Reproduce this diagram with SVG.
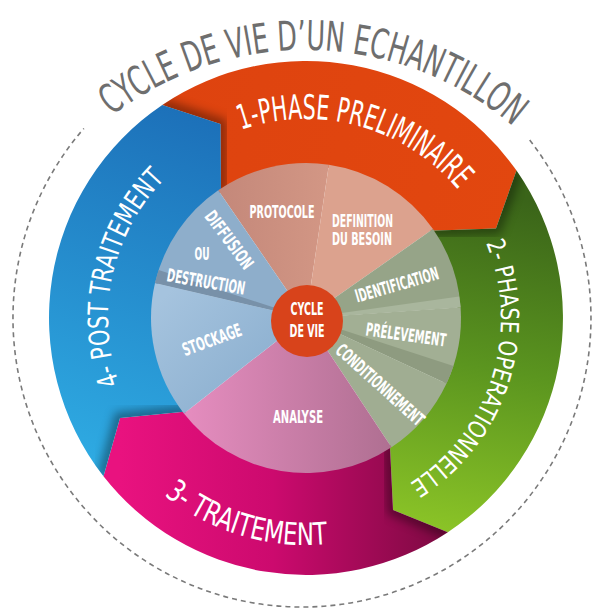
<svg xmlns="http://www.w3.org/2000/svg" width="592" height="611" viewBox="0 0 592 611">
<style>
text{font-family:'Liberation Sans Narrow','DejaVu Sans Condensed','Liberation Sans',sans-serif}
.title{fill:#6e6e6e;font-size:41px}
.ring{fill:#fff}
.lbl{fill:#fff;font-size:18px;font-weight:bold;text-anchor:middle}
.lbll{fill:#fff;font-size:18px;font-weight:bold}
.shadow{fill:none;stroke:#000;stroke-width:12;stroke-opacity:0.38;stroke-linejoin:miter}
</style>
<defs>
<linearGradient id="gBlue" gradientUnits="userSpaceOnUse" x1="90" y1="460" x2="210" y2="110"><stop offset="0" stop-color="#2eaae2"/><stop offset="1" stop-color="#1c6fb8"/></linearGradient>
<linearGradient id="gOrange" gradientUnits="userSpaceOnUse" x1="160" y1="100" x2="520" y2="200"><stop offset="0" stop-color="#de430f"/><stop offset="1" stop-color="#e2470f"/></linearGradient>
<linearGradient id="gGreen" gradientUnits="userSpaceOnUse" x1="470" y1="190" x2="410" y2="530"><stop offset="0" stop-color="#3a6419"/><stop offset="0.5" stop-color="#5b951f"/><stop offset="1" stop-color="#8cc527"/></linearGradient>
<linearGradient id="gMag" gradientUnits="userSpaceOnUse" x1="120" y1="0" x2="460" y2="0"><stop offset="0" stop-color="#e9127f"/><stop offset="0.45" stop-color="#cc0a6e"/><stop offset="1" stop-color="#760a3e"/></linearGradient>
<linearGradient id="gAnal" gradientUnits="userSpaceOnUse" x1="190" y1="0" x2="430" y2="0"><stop offset="0" stop-color="#e48cbe"/><stop offset="1" stop-color="#a56a89"/></linearGradient>
<linearGradient id="gProt" gradientUnits="userSpaceOnUse" x1="220" y1="0" x2="330" y2="0"><stop offset="0" stop-color="#c4887a"/><stop offset="1" stop-color="#d39785"/></linearGradient>
<linearGradient id="gStock" gradientUnits="userSpaceOnUse" x1="160" y1="300" x2="280" y2="420"><stop offset="0" stop-color="#a5c3de"/><stop offset="1" stop-color="#86abcc"/></linearGradient>
<filter id="blur" x="-50%" y="-50%" width="200%" height="200%"><feGaussianBlur stdDeviation="5"/></filter>
<clipPath id="ringClip"><circle cx="306" cy="318" r="257"/></clipPath>
<path id="segO" d="M162.3,104.9 A257,257 0 0 1 516.5,170.6 L496,228.5 L430.5,230.8 A152,152 0 0 0 221,192 L220.5,124 Z"/>
<path id="segG" d="M516.5,170.6 A257,257 0 0 1 447.8,532.3 L393,510 L389.9,444.8 A152,152 0 0 0 430.5,230.8 L496,228.5 Z"/>
<path id="segM" d="M447.8,532.3 A257,257 0 0 1 103.5,476.2 L120,418 L186.2,411.6 A152,152 0 0 0 389.9,444.8 L393,510 Z"/>
<path id="segB" d="M103.5,476.2 A257,257 0 0 1 162.3,104.9 L220.5,124 L221,192 A152,152 0 0 0 186.2,411.6 L120,418 Z"/>
<mask id="mO"><rect width="592" height="611" fill="#fff"/><use href="#segO" fill="#000"/></mask>
<mask id="mG"><rect width="592" height="611" fill="#fff"/><use href="#segG" fill="#000"/></mask>
<mask id="mM"><rect width="592" height="611" fill="#fff"/><use href="#segM" fill="#000"/></mask>
<mask id="mB"><rect width="592" height="611" fill="#fff"/><use href="#segB" fill="#000"/></mask>
<path id="pTitle" d="M111.8,115.9 A319,319 0 0 1 513.2,126.4"/>
<path id="p1" d="M241.2,129.8 A199,199 0 0 1 458.4,190.1"/>
<path id="p2" d="M486,243.1 A195,195 0 0 1 409.3,483.4"/>
<path id="p3" d="M164.1,495.2 A227,227 0 0 0 327.8,544"/>
<path id="p4" d="M119.2,383.8 A198,198 0 0 1 165,179"/>
</defs>

<path id="dashed-circle" d="M529.7,140.1 A289,289 0 1 1 83.9,128.4" fill="none" stroke="#7a7a7a" stroke-width="1.6" stroke-dasharray="5 4"/>

<g id="title"><text class="title"><textPath href="#pTitle" textLength="434" lengthAdjust="spacingAndGlyphs">CYCLE DE VIE D’UN ECHANTILLON</textPath></text></g>

<g id="phase1"><use href="#segO" fill="url(#gOrange)"/></g>
<g id="phase2"><use href="#segG" fill="url(#gGreen)"/></g>
<g id="phase3"><use href="#segM" fill="url(#gMag)"/></g>
<g id="phase4"><use href="#segB" fill="url(#gBlue)"/></g>

<g id="connectors" clip-path="url(#ringClip)">
<g mask="url(#mO)"><polyline class="shadow" filter="url(#blur)" points="516.5,170.6 496,228.5 430.5,230.8"/></g>
<g mask="url(#mG)"><polyline class="shadow" filter="url(#blur)" points="447.8,532.3 393,510 389.9,444.8"/></g>
<g mask="url(#mM)"><polyline class="shadow" filter="url(#blur)" points="103.5,476.2 120,418 186.2,411.6"/></g>
<g mask="url(#mB)"><polyline class="shadow" filter="url(#blur)" points="162.3,104.9 220.5,124 221,192"/></g>
</g>

<g id="ring-labels">
<text class="ring" font-size="34"><textPath href="#p1" textLength="239" lengthAdjust="spacingAndGlyphs">1-PHASE PRELIMINAIRE</textPath></text>
<text class="ring" font-size="25"><textPath href="#p2" textLength="274" lengthAdjust="spacingAndGlyphs">2- PHASE OPERATIONNELLE</textPath></text>
<text class="ring" font-size="31"><textPath href="#p3" textLength="175" lengthAdjust="spacingAndGlyphs">3- TRAITEMENT</textPath></text>
<text class="ring" font-size="28"><textPath href="#p4" textLength="221" lengthAdjust="spacingAndGlyphs">4- POST TRAITEMENT</textPath></text>
</g>

<g id="pie">
<path id="s-protocole" d="M306,318 L218.2,190.3 A155,155 0 0 1 328.9,164.7 Z" fill="url(#gProt)"/>
<path id="s-definition" d="M306,318 L328.9,164.7 A155,155 0 0 1 433,229.1 Z" fill="#dca28e"/>
<path id="s-identification" d="M306,318 L433,229.1 A155,155 0 0 1 460.6,307.2 Z" fill="#96a488"/>
<path d="M306,318 L459.2,296.4 A155,155 0 0 1 460.6,307.2 Z" fill="#a9b69d"/>
<path id="s-prelevement" d="M306,318 L460.6,307.2 A155,155 0 0 1 446.5,383.5 Z" fill="#a2af94"/>
<path d="M306,318 L453.4,365.9 A155,155 0 0 1 446.5,383.5 Z" fill="#8e9b80"/>
<path id="s-conditionnement" d="M306,318 L446.5,383.5 A155,155 0 0 1 391.5,447.3 Z" fill="#a0ad92"/>
<path id="s-analyse" d="M306,318 L391.5,447.3 A155,155 0 0 1 183.9,413.4 Z" fill="url(#gAnal)"/>
<path id="s-stockage" d="M306,318 L183.9,413.4 A155,155 0 0 1 155,283.1 Z" fill="url(#gStock)"/>
<path id="s-diffusion" d="M306,318 L155,283.1 A155,155 0 0 1 218.2,190.3 Z" fill="#8eaecb"/>
<path d="M306,318 L155,283.1 A155,155 0 0 1 158.6,270.1 Z" fill="#7891a9"/>
</g>

<g id="n-protocole"><text class="lbl" x="282" y="218" textLength="65" lengthAdjust="spacingAndGlyphs">PROTOCOLE</text></g>
<g id="n-definition"><text class="lbll" x="332" y="227" textLength="61" lengthAdjust="spacingAndGlyphs">DEFINITION</text><text class="lbll" x="332" y="245" textLength="60" lengthAdjust="spacingAndGlyphs">DU BESOIN</text></g>
<g id="n-identification" transform="translate(397,285) rotate(-16)"><text class="lbl" x="0" y="6" textLength="86" lengthAdjust="spacingAndGlyphs">IDENTIFICATION</text></g>
<g id="n-prelevement" transform="translate(406,335) rotate(8)"><text class="lbl" x="0" y="6" textLength="81" lengthAdjust="spacingAndGlyphs">PRÉLEVEMENT</text></g>
<g id="n-conditionnement" transform="translate(380,385) rotate(42)"><text class="lbl" x="0" y="6" textLength="112" lengthAdjust="spacingAndGlyphs">CONDITIONNEMENT</text></g>
<g id="n-analyse"><text class="lbl" x="298" y="423" textLength="50" lengthAdjust="spacingAndGlyphs">ANALYSE</text></g>
<g id="n-stockage" transform="translate(212,340) rotate(-20)"><text class="lbl" x="0" y="6" textLength="62" lengthAdjust="spacingAndGlyphs">STOCKAGE</text></g>
<g id="n-diffusion">
<text class="lbl" transform="translate(229,240) rotate(53)" x="0" y="6" textLength="68" lengthAdjust="spacingAndGlyphs">DIFFUSION</text>
<text class="lbl" x="202" y="260" textLength="15" lengthAdjust="spacingAndGlyphs">OU</text>
<text class="lbl" transform="translate(206,282) rotate(10)" x="0" y="6" textLength="79" lengthAdjust="spacingAndGlyphs">DESTRUCTION</text>
</g>

<g id="n-center">
<circle cx="307" cy="321" r="36" fill="#d8431b"/>
<text class="lbl" x="307" y="315" textLength="33" lengthAdjust="spacingAndGlyphs">CYCLE</text>
<text class="lbl" x="307" y="337" textLength="35" lengthAdjust="spacingAndGlyphs">DE VIE</text>
</g>
</svg>
